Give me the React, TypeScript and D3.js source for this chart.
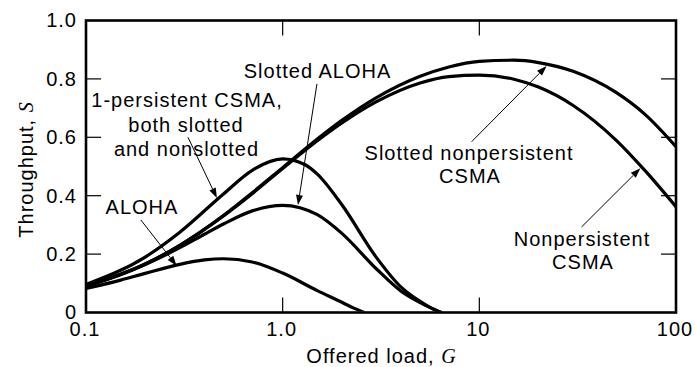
import React from "react";
import * as d3 from "d3";

// ---- data ----
const alohaG = [0.1, 0.15, 0.2, 0.3, 0.4, 0.5, 0.7, 1.0, 1.5, 2.0, 2.3, 2.6];
const alohaS = [0.082, 0.111, 0.134, 0.165, 0.18, 0.184, 0.173, 0.135, 0.075, 0.035, 0.015, 0.0];

const slottedAlohaG = [0.1, 0.15, 0.2, 0.3, 0.4, 0.5, 0.7, 1.0, 1.5, 2, 3, 4, 5, 5.7, 6.4];
const slottedAlohaS = [0.09, 0.129, 0.164, 0.222, 0.268, 0.303, 0.348, 0.367, 0.335, 0.271, 0.149, 0.073, 0.034, 0.015, 0.0];

const persistentG = [0.1, 0.2, 0.3, 0.5, 0.7, 1.0, 1.3, 1.5, 2, 3, 4, 5, 5.7, 6.4];
const persistentS = [0.096, 0.19, 0.275, 0.406, 0.487, 0.526, 0.506, 0.474, 0.369, 0.188, 0.087, 0.038, 0.015, 0.0];

const nonpersG = [0.1, 0.2, 0.3, 0.5, 0.7, 1, 1.5, 2, 3, 5, 7, 10, 15, 20, 30, 50, 70, 100];
const nonpersS = [0.09, 0.166, 0.23, 0.331, 0.407, 0.493, 0.588, 0.649, 0.722, 0.786, 0.808, 0.813, 0.799, 0.772, 0.709, 0.588, 0.484, 0.362];

const slottedNonpersG = [0.1, 0.2, 0.3, 0.5, 0.7, 1, 1.5, 2, 3, 5, 7, 10, 15, 20, 30, 50, 70, 100];
const slottedNonpersS = [0.09, 0.166, 0.23, 0.332, 0.41, 0.496, 0.594, 0.658, 0.736, 0.809, 0.841, 0.86, 0.864, 0.856, 0.826, 0.752, 0.677, 0.568];

const xTicks = [0.1, 1, 10, 100];
const xTickLabels = ["0.1", "1.0", "10", "100"];
const yTicks = [0, 0.2, 0.4, 0.6, 0.8, 1.0];
const yTickLabels = ["0", "0.2", "0.4", "0.6", "0.8", "1.0"];

// annotation arrows: [fromG, fromS, toG, toS]
const arrows: [number, number, number, number][] = [
  [0.33, 0.6, 0.463, 0.392],
  [0.19, 0.317, 0.289, 0.16],
  [1.494, 0.783, 1.196, 0.368],
  [9.14, 0.585, 21.98, 0.844],
  [33.1, 0.293, 65.9, 0.494],
];

const W = 695;
const H = 367;
const left = 86, right = 676, top = 20.5, bottom = 312.5;
const FONT = "'Liberation Sans', Arial, Helvetica, sans-serif";

export default function App() {
  const x = d3.scaleLog().domain([0.1, 100]).range([left, right]);
  const y = d3.scaleLinear().domain([0, 1]).range([bottom, top]);
  const line = d3
    .line<[number, number]>()
    .x((d) => x(d[0]))
    .y((d) => y(d[1]))
    .curve(d3.curveMonotoneX);

  const series: [number[], number[]][] = [
    [alohaG, alohaS],
    [slottedAlohaG, slottedAlohaS],
    [persistentG, persistentS],
    [nonpersG, nonpersS],
    [slottedNonpersG, slottedNonpersS],
  ];

  const textStyle: React.CSSProperties = {
    fontFamily: FONT,
    fontSize: 20,
    letterSpacing: "1px",
  };

  const arrowEls = arrows.map(([g0, s0, g1, s1], i) => {
    const x0 = x(g0), y0 = y(s0), x1 = x(g1), y1 = y(s1);
    const dx = x1 - x0, dy = y1 - y0;
    const len = Math.hypot(dx, dy);
    const ux = dx / len, uy = dy / len;
    const hl = 10, hw = 3.5;
    const bx = x1 - ux * hl, by = y1 - uy * hl;
    const p = `${x1},${y1} ${bx - uy * hw},${by + ux * hw} ${bx + uy * hw},${by - ux * hw}`;
    return (
      <g key={i}>
        <line x1={x0} y1={y0} x2={bx} y2={by} stroke="#000" strokeWidth={1} />
        <polygon points={p} fill="#000" />
      </g>
    );
  });

  return (
    <svg width={W} height={H} style={{ position: "absolute", left: 0, top: 0, background: "#fff" }}>
      <rect x={0} y={0} width={W} height={H} fill="#fff" />
      <defs>
        <clipPath id="clip">
          <rect x={left} y={top - 5} width={right - left} height={bottom - top + 4} />
        </clipPath>
      </defs>
      {/* curves */}
      <g clipPath="url(#clip)">
        {series.map(([g, s], i) => (
          <path
            key={i}
            d={line(g.map((v, j) => [v, s[j]] as [number, number])) || ""}
            fill="none"
            stroke="#000"
            strokeWidth={3.2}
            strokeLinecap="round"
          />
        ))}
      </g>
      {/* ticks */}
      {yTicks.slice(1, -1).map((t, i) => (
        <g key={"yt" + i}>
          <line x1={left} x2={left + 15} y1={y(t)} y2={y(t)} stroke="#000" strokeWidth={1.2} />
          <line x1={right} x2={right - 15} y1={y(t)} y2={y(t)} stroke="#000" strokeWidth={1.2} />
        </g>
      ))}
      {xTicks.slice(1, -1).map((t, i) => (
        <g key={"xt" + i}>
          <line x1={x(t)} x2={x(t)} y1={bottom} y2={bottom - 15} stroke="#000" strokeWidth={1.2} />
          <line x1={x(t)} x2={x(t)} y1={top} y2={top + 15} stroke="#000" strokeWidth={1.2} />
        </g>
      ))}
      {/* frame */}
      <rect x={left} y={top} width={right - left} height={bottom - top} fill="none" stroke="#000" strokeWidth={2.6} />
      {/* tick labels */}
      {yTicks.map((t, i) => (
        <text key={"yl" + i} x={77} y={y(t)} dy="0.34em" textAnchor="end" style={textStyle}>
          {yTickLabels[i]}
        </text>
      ))}
      {xTicks.map((t, i) => (
        <text key={"xl" + i} x={x(t) - 1} y={336} textAnchor="middle" style={textStyle}>
          {xTickLabels[i]}
        </text>
      ))}
      {/* axis titles */}
      <text x={381} y={363} textAnchor="middle" style={textStyle}>
        Offered load,{" "}
        <tspan style={{ fontFamily: "'Liberation Serif', 'Times New Roman', serif", fontStyle: "italic", letterSpacing: "0px" }}>G</tspan>
      </text>
      <text transform={`translate(33,170) rotate(-90)`} textAnchor="middle" style={textStyle}>
        Throughput,{" "}
        <tspan style={{ fontFamily: "'Liberation Serif', 'Times New Roman', serif", fontStyle: "italic", letterSpacing: "0px" }}>S</tspan>
      </text>
      {/* annotations */}
      <text x={187} y={107} textAnchor="middle" style={textStyle}>1-persistent CSMA,</text>
      <text x={186} y={131.5} textAnchor="middle" style={textStyle}>both slotted</text>
      <text x={186.5} y={156} textAnchor="middle" style={textStyle}>and nonslotted</text>
      <text x={142} y={214.3} textAnchor="middle" style={textStyle}>ALOHA</text>
      <text x={317.5} y={78.3} textAnchor="middle" style={textStyle}>Slotted ALOHA</text>
      <text x={469} y={159.5} textAnchor="middle" style={textStyle}>Slotted nonpersistent</text>
      <text x={470} y={183.3} textAnchor="middle" style={textStyle}>CSMA</text>
      <text x={582} y={246} textAnchor="middle" style={textStyle}>Nonpersistent</text>
      <text x={583} y={268.5} textAnchor="middle" style={textStyle}>CSMA</text>
      {arrowEls}
    </svg>
  );
}
